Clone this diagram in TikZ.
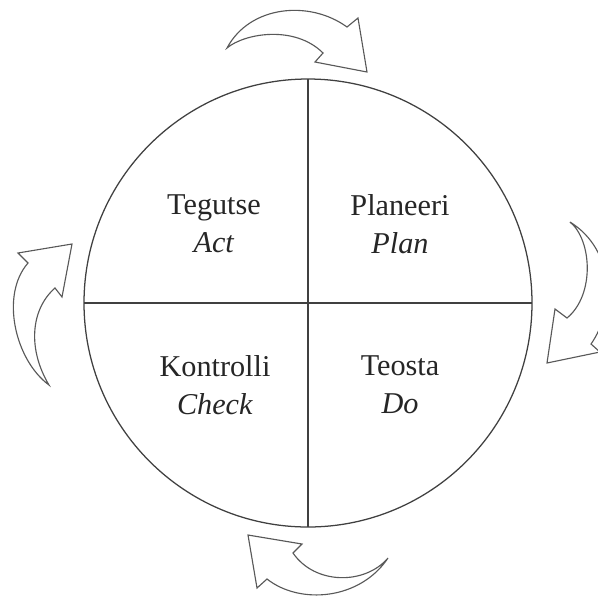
\documentclass[tikz,border=0pt]{standalone}
\usepackage{fontspec}
\setmainfont{Liberation Serif}
\usetikzlibrary{positioning}

\tikzset{
  quadlabel/.style={align=center, font=\fontsize{21.5}{27}\selectfont, text=black!85},
  cyclearrow/.style={draw=black!65, line width=0.8pt, line join=miter, fill=white},
}

\begin{document}
\begin{tikzpicture}[x=0.025cm, y=-0.025cm]
  \path[use as bounding box, clip] (0,0) rectangle (598,595);
  \fill[white] (0,0) rectangle (598,595);

  % Circle and quadrants
  \node (c) at (308,303) {};
  \draw[black!75, line width=0.9pt] (c.center) circle[radius=224];
  \coordinate (ctop) at (308,79);
  \coordinate (cbot) at (308,527);
  \coordinate (cleft) at (84,303);
  \coordinate (cright) at (532,303);
  \draw[black!75, line width=0.9pt] (ctop) -- (cbot);
  \draw[black!75, line width=0.9pt] (cleft) -- (cright);

  % Quadrant labels
  \node[quadlabel] (act) at (214,224) {Tegutse\\\textit{Act}};
  \node[quadlabel] (plan) at (400,224) {Planeeri\\\textit{Plan}};
  \node[quadlabel] (check) at (215,385) {Kontrolli\\\textit{Check}};
  \node[quadlabel] (do) at (400,385) {Teosta\\\textit{Do}};

  % Curved block arrows round the circle
  \draw[cyclearrow] (227,48) .. controls (245,33) and (295,25) .. (323,53)
    -- (315,62) -- (367,72) -- (358,18) -- (347,27)
    .. controls (310,0) and (250,5) .. cycle;
  \draw[cyclearrow] (570,222) .. controls (592,240) and (595,295) .. (567,318)
    -- (555,309) -- (547,363) -- (600,352) -- (591,344)
    .. controls (615,310) and (615,250) .. cycle;
  \draw[cyclearrow] (388,558) .. controls (365,585) and (315,585) .. (293,553)
    -- (302,544) -- (248,535) -- (257,588) -- (267,579)
    .. controls (300,605) and (360,600) .. cycle;
  \draw[cyclearrow] (49,385) .. controls (15,360) and (0,295) .. (28,263)
    -- (18,253) -- (72,244) -- (62,297) -- (55,288)
    .. controls (30,310) and (28,350) .. cycle;
\end{tikzpicture}
\end{document}
